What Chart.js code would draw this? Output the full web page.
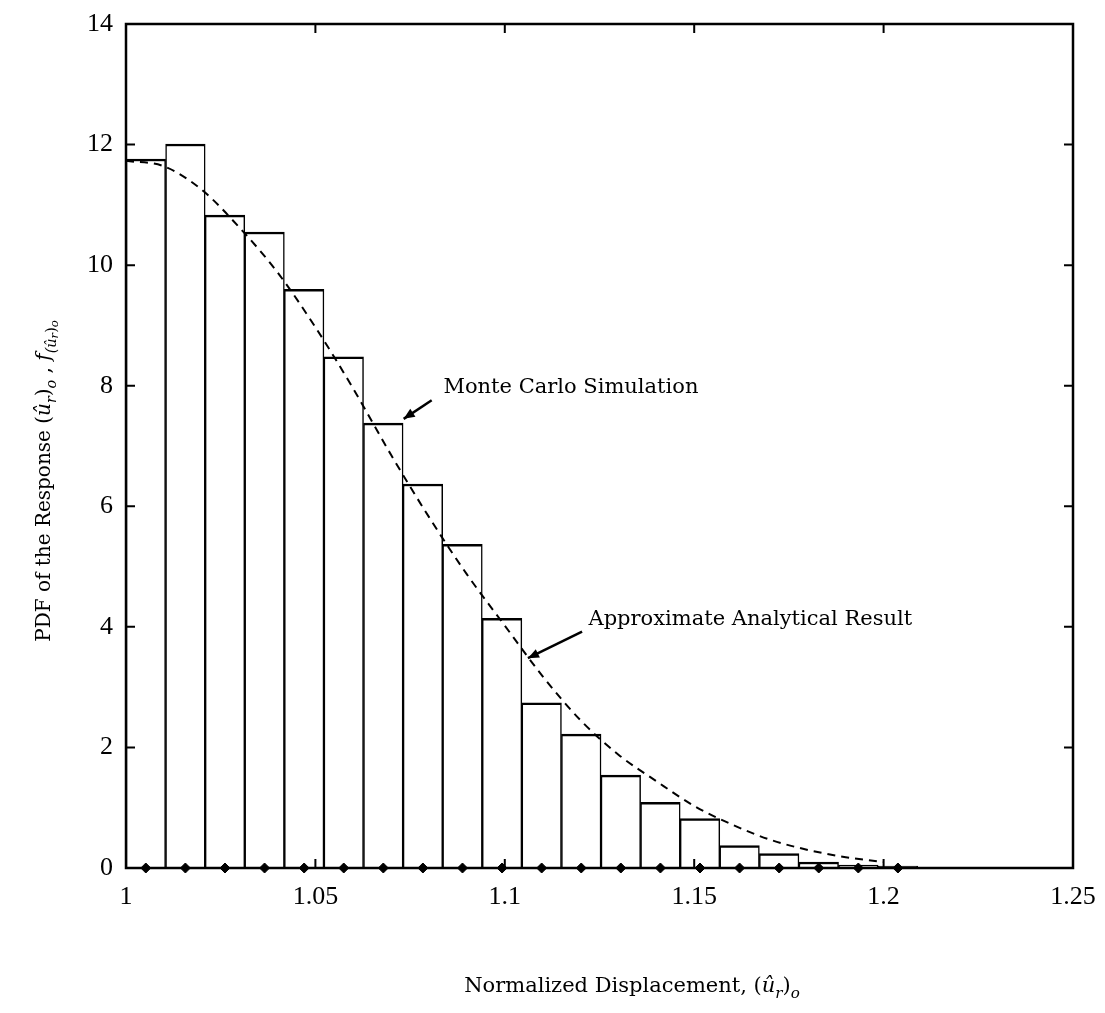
<!DOCTYPE html>
<html>
<head>
<meta charset="utf-8">
<script src="https://cdn.jsdelivr.net/npm/chart.js@4/dist/chart.umd.min.js"></script>
<style>
  html, body { margin: 0; padding: 0; background: #fff; }
  canvas { display: block; }
</style>
</head>
<body>
<canvas id="pdf" width="1105" height="1013"></canvas>
<script>
// histogram of the simulated response (bin centres and heights)
const binCenters = [1.00523, 1.01568, 1.02613, 1.03658, 1.04703, 1.05748, 1.06793, 1.07838, 1.08883, 1.09928,
                    1.10973, 1.12018, 1.13063, 1.14108, 1.15153, 1.16198, 1.17243, 1.18288, 1.19333, 1.20378];
const mcDensity = [11.76, 12.01, 10.83, 10.55, 9.60, 8.48, 7.38, 6.37, 5.37, 4.14,
                   2.74, 2.22, 1.54, 1.09, 0.82, 0.37, 0.24, 0.10, 0.05, 0.03];

// approximate analytical pdf
const curveX = [1.00, 1.01, 1.02, 1.03, 1.04, 1.05, 1.06, 1.07, 1.08, 1.09, 1.10,
                1.11, 1.12, 1.13, 1.14, 1.15, 1.16, 1.17, 1.18, 1.19, 1.20];
const curveY = [11.73, 11.64, 11.25, 10.62, 9.88, 8.97, 7.95, 6.85, 5.82, 4.87, 4.02,
                3.18, 2.45, 1.88, 1.44, 1.03, 0.72, 0.47, 0.30, 0.18, 0.10];

const xTicks = [1, 1.05, 1.1, 1.15, 1.2, 1.25];
const yTicks = [0, 2, 4, 6, 8, 10, 12, 14];

const SERIF = '"DejaVu Serif", serif';
const TICKFONT = '"Liberation Serif", "Times New Roman", serif';

// draws a run of text pieces, some italic / subscripted, centred on 0
function richText(ctx, parts, size) {
  let x = 0;
  const pieces = parts.map(p => {
    const lvl = p.lvl || 0;
    const fs = size * (lvl === 0 ? 1 : lvl === 1 ? 0.72 : 0.58);
    const font = (p.it ? 'italic ' : '') + fs + 'px ' + SERIF;
    ctx.font = font;
    const w = ctx.measureText(p.t).width;
    const shift = lvl === 0 ? 0 : lvl === 1 ? size * 0.28 : size * 0.42;
    const piece = { t: p.t, font, x, shift };
    x += w;
    return piece;
  });
  const total = x;
  pieces.forEach(p => {
    ctx.font = p.font;
    ctx.fillText(p.t, p.x - total / 2, p.shift);
  });
}

const framePlugin = {
  id: 'frame',
  afterDraw(chart) {
    const { ctx, chartArea: a, scales } = chart;
    ctx.save();
    ctx.strokeStyle = '#000';
    ctx.lineWidth = 2.5;
    ctx.strokeRect(a.left, a.top, a.right - a.left, a.bottom - a.top);

    // inward ticks on all four sides
    const tl = 9;
    ctx.lineWidth = 2;
    ctx.beginPath();
    xTicks.forEach(v => {
      const px = scales.x.getPixelForValue(v);
      ctx.moveTo(px, a.bottom); ctx.lineTo(px, a.bottom - tl);
      ctx.moveTo(px, a.top); ctx.lineTo(px, a.top + tl);
    });
    yTicks.forEach(v => {
      const py = scales.y.getPixelForValue(v);
      ctx.moveTo(a.left, py); ctx.lineTo(a.left + tl, py);
      ctx.moveTo(a.right, py); ctx.lineTo(a.right - tl, py);
    });
    ctx.stroke();

    // annotations with arrows
    const ann = [
      { text: 'Monte Carlo Simulation', tx: 1.0838, ty: 7.97, from: [1.0807, 7.76], to: [1.0733, 7.45] },
      { text: 'Approximate Analytical Result', tx: 1.1221, ty: 4.12, from: [1.1204, 3.92], to: [1.1061, 3.48] }
    ];
    ctx.fillStyle = '#000';
    ann.forEach(n => {
      ctx.font = '21px ' + SERIF;
      ctx.textBaseline = 'middle';
      ctx.textAlign = 'left';
      ctx.fillText(n.text, scales.x.getPixelForValue(n.tx), scales.y.getPixelForValue(n.ty));
      const x0 = scales.x.getPixelForValue(n.from[0]), y0 = scales.y.getPixelForValue(n.from[1]);
      const x1 = scales.x.getPixelForValue(n.to[0]), y1 = scales.y.getPixelForValue(n.to[1]);
      ctx.lineWidth = 2.5;
      ctx.beginPath(); ctx.moveTo(x0, y0); ctx.lineTo(x1, y1); ctx.stroke();
      const ang = Math.atan2(y1 - y0, x1 - x0), hl = 12, hw = 0.4;
      ctx.beginPath();
      ctx.moveTo(x1, y1);
      ctx.lineTo(x1 - hl * Math.cos(ang - hw), y1 - hl * Math.sin(ang - hw));
      ctx.lineTo(x1 - hl * Math.cos(ang + hw), y1 - hl * Math.sin(ang + hw));
      ctx.closePath(); ctx.fill();
    });

    // axis titles
    ctx.textAlign = 'left';
    ctx.textBaseline = 'alphabetic';
    ctx.save();
    ctx.translate(632, 992);
    richText(ctx, [
      { t: 'Normalized Displacement, (' }, { t: 'û', it: true }, { t: 'r', it: true, lvl: 1 },
      { t: ')' }, { t: 'o', it: true, lvl: 1 }
    ], 21);
    ctx.restore();

    ctx.save();
    ctx.translate(50, 481);
    ctx.rotate(-Math.PI / 2);
    richText(ctx, [
      { t: 'PDF of the Response (' }, { t: 'û', it: true }, { t: 'r', it: true, lvl: 1 },
      { t: ')' }, { t: 'o', it: true, lvl: 1 }, { t: ' , ' }, { t: 'f', it: true },
      { t: '(û', it: true, lvl: 1 }, { t: 'r', it: true, lvl: 2 }, { t: ')', lvl: 1 }, { t: 'o', it: true, lvl: 2 }
    ], 20);
    ctx.restore();
    ctx.restore();
  }
};

new Chart(document.getElementById('pdf'), {
  type: 'bar',
  data: {
    datasets: [
      {
        type: 'line',
        label: 'Approximate Analytical Result',
        data: curveX.map((x, i) => ({ x, y: curveY[i] })),
        borderColor: '#000',
        borderWidth: 2,
        borderDash: [8, 6],
        pointRadius: 0,
        cubicInterpolationMode: 'monotone',
        fill: false,
        order: 0
      },
      {
        type: 'line',
        label: 'bin centres',
        data: binCenters.map(x => ({ x, y: 0 })),
        showLine: false,
        pointStyle: 'rectRot',
        pointRadius: 5,
        pointBackgroundColor: '#000',
        pointBorderColor: '#000',
        clip: false,
        order: -1
      },
      {
        type: 'bar',
        label: 'Monte Carlo Simulation',
        data: binCenters.map((x, i) => ({ x, y: mcDensity[i] })),
        backgroundColor: '#fff',
        borderColor: '#000',
        borderWidth: { top: 2.5, left: 1.5, right: 1.5, bottom: 0 },
        borderSkipped: false,
        barPercentage: 1,
        categoryPercentage: 1,
        order: 2
      }
    ]
  },
  options: {
    responsive: false,
    animation: false,
    devicePixelRatio: 1,
    layout: { padding: { top: 24, right: 32, left: 0, bottom: 0 } },
    plugins: { legend: { display: false }, tooltip: { enabled: false } },
    scales: {
      x: {
        type: 'linear',
        min: 1, max: 1.25,
        offset: false,
        grid: { display: false },
        border: { display: false },
        afterBuildTicks: s => { s.ticks = xTicks.map(v => ({ value: v })); },
        afterFit: s => { s.height = 145; },
        ticks: { color: '#000', padding: 6, maxRotation: 0, autoSkip: false,
                 callback: v => String(v),
                 font: { family: TICKFONT, size: 26 } }
      },
      y: {
        min: 0, max: 14,
        grid: { display: false },
        border: { display: false },
        afterBuildTicks: s => { s.ticks = yTicks.map(v => ({ value: v })); },
        afterFit: s => { s.width = 126; },
        ticks: { color: '#000', padding: 5, callback: v => String(v),
                 font: { family: TICKFONT, size: 26 } }
      }
    }
  },
  plugins: [framePlugin]
});
</script>
</body>
</html>
